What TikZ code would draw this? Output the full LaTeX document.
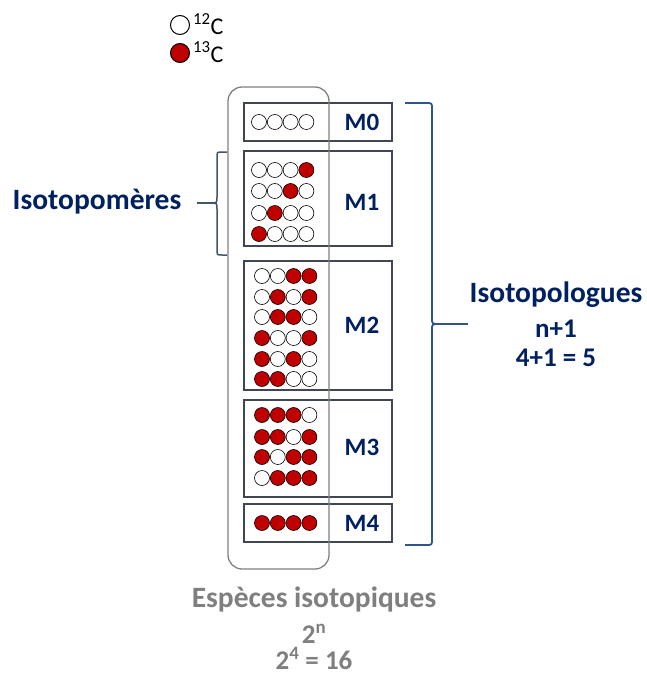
\documentclass[tikz,border=0pt]{standalone}
\usepackage{fontspec}
\setmainfont{Carlito}
\usetikzlibrary{positioning}

\definecolor{navy}{RGB}{0,32,96}
\definecolor{carbred}{RGB}{192,0,0}
\definecolor{boxline}{RGB}{64,70,82}
\definecolor{framegray}{RGB}{128,128,128}
\definecolor{braceblue}{RGB}{47,85,140}
\definecolor{braceslate}{RGB}{68,84,106}
\definecolor{textgray}{RGB}{127,127,127}

\begin{document}
\begin{tikzpicture}[x=1pt,y=-1pt,
	iso0/.style={circle,draw,fill=white,line width=0.6pt,inner sep=0pt,minimum size=15pt},
	iso1/.style={iso0,fill=carbred},
	mbox/.style={draw=boxline,line width=1.8pt,minimum width=148pt,inner sep=0pt},
	mlab/.style={font=\fontsize{25}{25}\selectfont\bfseries,text=navy,anchor=base},
	big/.style={font=\fontsize{29.5}{29.5}\selectfont\bfseries,anchor=base,inner sep=0pt},
	small/.style={font=\fontsize{27}{27}\selectfont\bfseries,anchor=base,inner sep=0pt}]
\useasboundingbox (0,0) rectangle (646,675);

% legende
\node[iso0,minimum size=19pt,line width=1pt] (l12) at (180,25) {};
\node[iso1,minimum size=19pt,line width=1pt] (l13) at (180,53) {};
\node[anchor=base west,inner sep=0pt,font=\fontsize{24}{24}\selectfont] (t12) at (193,34) {\textsuperscript{12}C};
\node[anchor=base west,inner sep=0pt,font=\fontsize{24}{24}\selectfont] (t13) at (193,62) {\textsuperscript{13}C};

% boites M0..M4
\node[mbox,minimum height=38pt] (m0) at (318,122) {};
\node[mbox,minimum height=95pt] (m1) at (318,198.5) {};
\node[mbox,minimum height=129pt] (m2) at (318,325.5) {};
\node[mbox,minimum height=97pt] (m3) at (318,448.5) {};
\node[mbox,minimum height=38pt] (m4) at (318,523) {};

\foreach \m/\y in {0/130,1/210,2/333,3/455,4/531}
	\node[mlab] (lab\m) at (362,\y) {M\m};

% atomes
\foreach \x/\y/\a/\b/\c/\d in {259/122/0/0/0/0, 259/170/0/0/0/1, 259/191/0/0/1/0, 259/213/0/1/0/0, 259/234/1/0/0/0,
	262/276/0/0/1/1, 262/297/0/1/0/1, 262/317/0/1/1/0, 262/338/1/0/0/1, 262/359/1/0/1/0, 262/379/1/1/0/0,
	262/415/1/1/1/0, 262/437/1/1/0/1, 262/457/1/0/1/1, 262/478/0/1/1/1, 262/523/1/1/1/1}
	\foreach \v [count=\i] in {\a,\b,\c,\d}
		\node[iso\v] (c-\y-\i) at ({\x+15.8*(\i-1)},\y) {};

% cadre des especes
\node[draw=framegray,line width=1.3pt,rounded corners=14pt,minimum width=101pt,minimum height=482pt] (esp) at (278.5,328) {};

% accolade gauche
\coordinate (lp) at (197,203);
\draw[braceslate,line width=1.5pt] (227,152) -- (222,152) .. controls (217,152) .. (217,157) -- (217,197)
	.. controls (217,203) .. (211,203) .. controls (217,203) .. (217,209) -- (217,250)
	.. controls (217,255) .. (222,255) -- (227,255);
\draw[braceslate,line width=1.5pt] (211,203) -- (lp);

% accolade droite
\coordinate (rp) at (468,324);
\draw[braceblue,line width=1.8pt] (405,103) -- (426,103) .. controls (432,103) .. (432,109) -- (432,318)
	.. controls (432,324) .. (439,324) .. controls (432,324) .. (432,330) -- (432,539)
	.. controls (432,545) .. (426,545) -- (405,545);
\draw[braceblue,line width=1.8pt] (439,324) -- (rp);

% textes
\node[big,text=navy] (pomeres) at (97,209) {Isotopomères};
\node[big,text=navy] (pologues) at (556,302) {Isotopologues};
\node[small,text=navy] (npl) at (556,337) {n+1};
\node[small,text=navy] (cinq) at (556,366) {4+1 = 5};

\node[big,text=textgray] (especes) at (314,607) {Espèces isotopiques};
\node[small,text=textgray] (deuxn) at (314,643) {2\textsuperscript{n}};
\node[small,text=textgray] (seize) at (314,669) {2\textsuperscript{4} = 16};
\end{tikzpicture}
\end{document}
